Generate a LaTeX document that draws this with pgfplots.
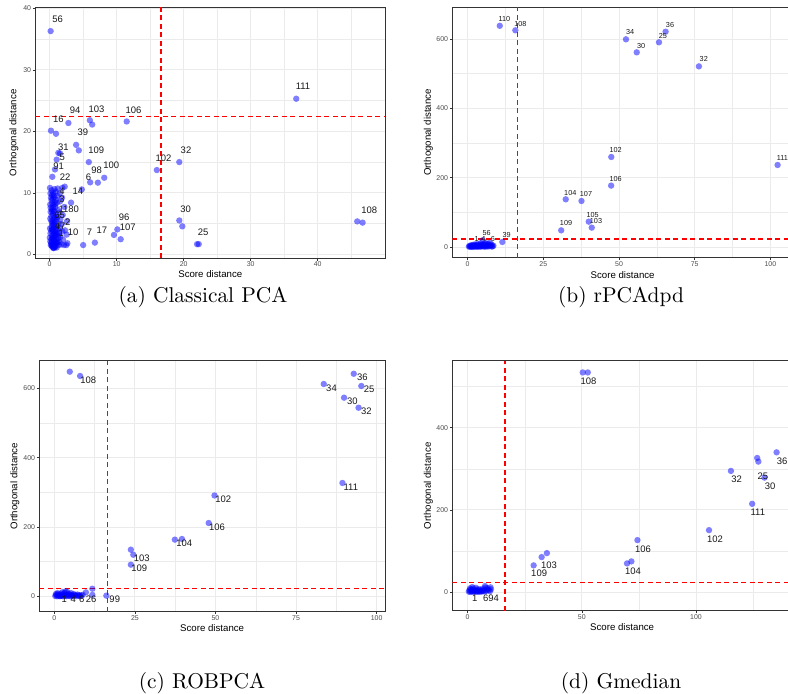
\documentclass[border=0pt]{standalone}
\usepackage{pgfplots}
\pgfplotsset{compat=1.18}
\usepackage{fontspec}
\newfontfamily\arial{Liberation Sans}
\newfontfamily\capfont{lmroman10-regular.otf}
\definecolor{tickgray}{HTML}{4D4D4D}
\definecolor{gridgray}{HTML}{EBEBEB}
\definecolor{framegray}{HTML}{333333}
\definecolor{ptblue}{HTML}{0000FF}
\definecolor{cutred}{HTML}{FF0000}
\newcommand{\labA}{\arial\fontsize{9.5}{10}\selectfont}
\newcommand{\labB}{\arial\fontsize{7.3}{8}\selectfont}
\pgfplotsset{
  dd/.style={
    scale only axis,
    axis line style={framegray, line width=1bp},
    grid=both,
    major grid style={gridgray, line width=0.9bp},
    minor grid style={gridgray, line width=0.45bp},
    tick style={framegray, line width=0.6bp},
    major tick length=2.5bp,
    minor tick length=0pt,
    tick align=outside,
    xtick pos=bottom, ytick pos=left,
    /pgf/number format/assume math mode=true,
    ticklabel style={font=\arial\fontsize{7}{8}\selectfont, text=tickgray},
    xticklabel style={inner sep=1bp},
    yticklabel style={inner sep=1.5bp},
    label style={font=\arial\fontsize{9.7}{11}\selectfont, text=black},
    xlabel={Score distance}, ylabel={Orthogonal distance},
    clip=true,
  },
  pts/.style={only marks, mark=*, mark size=3.2,
    mark options={draw opacity=0, line width=0pt, fill=ptblue, fill opacity=0.5}},
  cut/.style={draw=cutred, line width=1.1bp, dash pattern=on 5bp off 3.5bp, forget plot, mark=none},
  lab/.style={only marks, mark=none, point meta=explicit symbolic,
    nodes near coords,
    every node near coord/.append style={anchor=center, inner sep=0pt, text=black!90, font=#1}},
}
\begin{document}
\begin{tikzpicture}
\useasboundingbox (0,0) rectangle (788bp,694bp);
% ---------------- (a) Classical PCA
\begin{axis}[dd, anchor=south west, at={(35.3bp,435.7bp)}, width=350bp, height=251bp,
  xmin=-2.14, xmax=50.09, ymin=-0.65, ymax=40.17,
  xtick={0,10,20,30,40}, minor xtick={5,15,25,35,45},
  ytick={0,10,20,30,40}, minor ytick={5,15,25,35},
  xlabel style={at={(axis description cs:0.5,-0.0625)}, anchor=center},
  ylabel style={at={(axis description cs:-0.0609,0.5)}, anchor=center}]
\addplot[cut] coordinates {(16.62,-0.65) (16.62,40.17)};
\addplot[cut] coordinates {(-2.14,22.38) (50.09,22.38)};
\addplot[pts] table {
x y
0.15 36.3
0.2 20.1
0.95 19.6
2.8 21.35
6.0 21.8
6.35 21.1
11.5 21.6
3.95 17.8
4.35 16.9
1.3 16.5
1.55 16.4
1.05 15.4
0.8 13.8
0.4 12.6
5.85 15.0
4.8 10.55
6.05 11.7
7.2 11.65
8.15 12.45
3.2 8.4
16.0 13.7
19.35 15.0
2.25 11.0
19.35 5.5
19.8 4.55
10.1 4.05
9.6 3.15
10.6 2.45
5.0 1.5
6.75 1.9
2.5 1.5
36.8 25.3
45.9 5.35
46.7 5.15
22.0 1.65
22.25 1.65
0.05 10.8
0.12 9.9
0.08 8.1
0.15 6.9
0.1 5.8
0.05 4.2
0.12 3.4
0.02 2.7
0.1 2.1
0.18 1.5
0.3 10.4
0.35 9.6
0.28 8.8
0.32 7.3
0.26 6.2
0.38 5.0
0.3 4.5
0.25 3.8
0.36 3.0
0.29 2.4
0.33 1.9
0.4 1.2
0.52 10.0
0.48 9.0
0.55 8.0
0.5 7.6
0.46 6.6
0.58 5.6
0.53 4.8
0.47 4.0
0.56 3.3
0.5 2.7
0.6 2.1
0.45 1.5
0.55 1.05
0.72 10.6
0.7 9.3
0.75 8.5
0.68 7.0
0.78 6.0
0.72 5.2
0.66 4.4
0.8 3.6
0.7 2.9
0.76 2.3
0.68 1.7
0.82 1.2
0.92 10.2
0.95 8.9
0.88 7.7
0.98 6.4
0.9 5.4
1.0 4.6
0.93 3.9
0.87 3.1
1.02 2.4
0.95 1.8
0.9 1.35
1.2 10.7
1.15 9.5
1.25 7.2
1.18 6.1
1.3 5.0
1.22 4.1
1.12 3.4
1.28 2.6
1.2 1.9
1.35 1.5
1.5 9.9
1.55 8.6
1.45 6.8
1.6 5.7
1.5 4.3
1.42 3.5
1.58 2.8
1.48 2.0
1.9 10.8
1.85 9.2
1.95 6.4
1.8 4.9
1.9 3.7
2.0 2.4
1.75 1.6
2.2 7.7
2.3 3.9
2.15 1.5
2.6 5.4
2.55 3.2
2.65 1.8
0.6 1.0
0.2 9.2
0.4 8.3
0.6 7.1
0.45 5.3
0.65 4.8
0.35 4.1
0.55 3.7
0.75 3.2
0.42 2.6
0.62 2.5
0.85 2.0
0.22 1.8
0.5 1.3
0.7 1.1
1.05 1.1
0.85 4.2
1.05 5.8
0.25 5.4
0.62 6.2
0.4 7.0
0.85 8.1
1.1 8.4
0.6 9.6
0.15 7.6
1.0 3.3
1.1 2.0
0.3 1.4
0.8 1.6
1.3 3.0
0.55 1.7
};
\addplot[lab=\labA] coordinates {
(1.2,38.2)[56] (1.3,22.0)[16] (3.8,23.4)[94] (7.0,23.6)[103] (12.5,23.5)[106]
(4.95,19.8)[39] (2.05,17.4)[31] (1.9,15.8)[5] (1.35,14.4)[91] (6.95,16.9)[109]
(7.0,13.6)[98] (9.2,14.5)[100] (5.8,12.6)[6] (2.3,12.5)[22] (17.0,15.6)[102]
(20.35,17.0)[32] (1.85,10.3)[4] (4.2,10.2)[14] (1.85,8.95)[3] (2.85,7.3)[1180]
(1.5,6.3)[65] (1.55,4.6)[47] (2.7,5.15)[2] (1.75,3.5)[1] (3.5,3.6)[10]
(5.95,3.6)[7] (7.8,3.9)[17] (11.1,6.0)[96] (11.65,4.35)[107] (20.3,7.4)[30]
(22.9,3.6)[25] (37.8,27.3)[111] (47.7,7.1)[108]
};
\end{axis}
% ---------------- (b) rPCAdpd
\begin{axis}[dd, anchor=south west, at={(452.3bp,436.3bp)}, width=340.7bp, height=250.4bp,
  xmin=-5.08, xmax=107.49, ymin=-30.9, ymax=691.4,
  xtick={0,25,50,75,100}, minor xtick={12.5,37.5,62.5,87.5},
  ytick={0,200,400,600}, minor ytick={100,300,500},
  xlabel style={at={(axis description cs:0.5,-0.069)}, anchor=center},
  ylabel style={at={(axis description cs:-0.0704,0.5)}, anchor=center}]
\addplot[cut] coordinates {(16.4,-30.9) (16.4,691.4)};
\addplot[cut] coordinates {(-5.08,23.1) (107.49,23.1)};
\addplot[pts] table {
x y
10.6 638
15.75 625
30.9 48
32.4 137.5
37.6 132.7
40.0 73
41.0 55.8
11.45 14.4
47.45 259.6
47.4 177
52.3 599
55.85 561.5
63.2 590.4
65.4 621
76.4 521
102.4 236.5
0.4 1.2
0.6 3.0
0.8 0.5
1.0 2.2
1.1 5.1
1.3 1.0
1.5 3.5
1.6 0.3
1.8 6.2
1.9 2.0
2.1 4.0
2.2 0.8
2.4 7.5
2.5 2.7
2.7 1.4
2.8 5.0
3.0 3.1
3.1 0.6
3.3 8.8
3.4 2.2
3.6 4.6
3.7 1.1
3.9 6.5
4.0 3.0
4.2 0.9
4.3 10.5
4.5 4.2
4.6 1.8
4.8 7.0
4.9 2.9
5.0 19.5
5.1 5.6
5.3 1.4
5.4 8.2
5.6 3.4
5.7 0.7
5.9 11.3
6.0 4.8
6.2 2.1
6.3 7.6
6.5 3.9
6.7 1.2
6.8 9.4
7.0 5.2
7.2 2.6
7.4 12.0
7.6 4.3
7.9 6.8
8.2 2.4
8.5 3.5
8.0 1.0
};
\addplot[lab=\labB] coordinates {
(12.1,658)[110] (17.4,644)[108] (33.9,156.7)[104] (39.1,153)[107] (32.5,68)[109]
(41.3,91)[105] (42.4,76)[103] (6.3,39.5)[56] (3.0,22)[1] (5.2,22)[4] (8.3,22)[6]
(12.9,34.6)[39] (48.9,280)[102] (48.9,195)[106] (53.7,619)[34] (57.3,580)[30]
(64.5,610)[25] (66.85,640)[36] (78.0,541)[32] (104,257)[111]
};
\end{axis}
% ---------------- (c) ROBPCA
\begin{axis}[dd, anchor=south west, at={(39.3bp,82.3bp)}, width=345.7bp, height=251bp,
  xmin=-4.66, xmax=102.6, ymin=-44.3, ymax=679.7,
  xtick={0,25,50,75,100}, minor xtick={12.5,37.5,62.5,87.5},
  ytick={0,200,400,600}, minor ytick={100,300,500},
  xlabel style={at={(axis description cs:0.5,-0.065)}, anchor=center},
  ylabel style={at={(axis description cs:-0.0703,0.5)}, anchor=center}]
\addplot[cut] coordinates {(16.55,-44.3) (16.55,679.7)};
\addplot[cut] coordinates {(-4.66,23.1) (102.6,23.1)};
\addplot[pts] table {
x y
4.8 648
8.0 635.6
23.75 134.6
24.5 120
23.75 91.3
37.4 163.5
39.6 165.4
16.15 2
11.8 22
11.8 4
9.8 11.5
49.7 291
47.9 211.5
83.6 612.5
92.9 642
95.25 606.7
89.9 573
94.4 544
89.4 327
0.3 1.0
0.6 3.5
0.9 0.2
1.1 5.8
1.3 2.1
1.6 0.5
1.8 4.2
2.0 8.0
2.2 1.6
2.4 3.0
2.6 0.3
2.8 6.1
3.0 2.4
3.2 10.5
3.4 1.0
3.6 4.6
3.8 0.6
4.0 12.8
4.2 3.2
4.4 7.0
4.6 1.5
4.8 5.1
5.0 0.4
5.2 9.3
5.4 2.7
5.6 4.0
5.8 0.9
6.0 6.6
6.3 2.0
6.6 3.8
6.9 0.7
7.2 5.3
7.5 1.8
7.8 3.3
8.1 0.5
8.4 2.5
8.8 4.4
1.0 9.5
2.5 11.8
3.5 14.5
0.5 6.8
1.9 0.9
};
\addplot[lab=\labA] coordinates {
(10.5,624)[108] (27.1,108.7)[103] (26.35,79.8)[109] (40.3,153)[104] (18.75,-9.6)[99]
(11.45,-7.7)[26] (3.1,-7.7)[1] (5.9,-7.7)[4] (8.5,-7.7)[6] (52.4,279)[102]
(50.5,198)[106] (86.0,601)[34] (95.6,631)[36] (97.7,596)[25] (92.5,561.5)[30]
(96.8,532.7)[32] (92.0,316)[111]
};
\end{axis}
% ---------------- (d) Gmedian
\begin{axis}[dd, anchor=south west, at={(452.3bp,83bp)}, width=339.7bp, height=250.3bp,
  xmin=-6.73, xmax=142.05, ymin=-46.2, ymax=563,
  xtick={0,50,100}, minor xtick={25,75,125},
  ytick={0,200,400}, minor ytick={100,300,500},
  xlabel style={at={(axis description cs:0.5,-0.066)}, anchor=center},
  ylabel style={at={(axis description cs:-0.0707,0.5)}, anchor=center}]
\addplot[cut] coordinates {(16.35,-46.2) (16.35,563)};
\addplot[cut] coordinates {(-6.73,22.7) (142.05,22.7)};
\addplot[pts] table {
x y
50.4 534.4
52.6 534.4
28.9 64.8
32.4 85
34.7 94.7
7.6 14.6
8.6 6.5
74.35 126.3
69.8 69.6
71.7 74.5
105.7 150.6
115.3 294.7
126.8 326.3
127.3 317.4
135.3 340
130.0 278.5
124.6 214.6
0.5 1.0
0.8 4.0
1.1 0.3
1.4 6.5
1.6 2.2
1.9 0.6
2.1 3.8
2.4 8.5
2.6 1.5
2.9 5.0
3.1 0.4
3.3 2.8
3.6 10.2
3.8 1.2
4.1 4.5
4.3 0.8
4.6 7.2
4.8 2.5
5.1 0.5
5.3 5.6
5.6 1.8
5.9 3.4
6.2 0.9
6.5 8.0
6.8 2.6
7.1 4.8
7.4 1.3
7.8 10.8
8.2 3.0
8.8 9.0
9.2 4.2
9.8 2.0
10.2 6.8
10.0 11.5
2.0 12.0
1.0 9.0
};
\addplot[lab=\labA] coordinates {
(52.9,513.4)[108] (31.3,44.5)[109] (35.6,64)[103] (3.1,-16)[1] (10.2,-16)[694]
(76.8,105)[106] (72.45,50)[104] (108.3,129.6)[102] (117.8,275.3)[32] (129.3,282.6)[25]
(137.75,319)[36] (132.5,258.3)[30] (127.1,195)[111]
};
\end{axis}
% ---------------- captions
\node[font=\capfont\fontsize{21.5}{24}\selectfont] at (203bp,397bp) {(a) Classical PCA};
\node[font=\capfont\fontsize{21.5}{24}\selectfont] at (621bp,397bp) {(b) rPCAdpd};
\node[font=\capfont\fontsize{21.5}{24}\selectfont] at (202bp,11bp) {(c) ROBPCA};
\node[font=\capfont\fontsize{21.5}{24}\selectfont] at (621bp,11bp) {(d) Gmedian};
\end{tikzpicture}
\end{document}
